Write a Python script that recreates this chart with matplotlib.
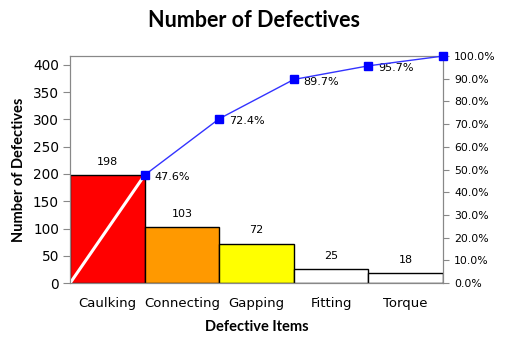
import matplotlib
matplotlib.use("Agg")
import matplotlib.pyplot as plt
import numpy as np

items = ["Caulking", "Connecting", "Gapping", "Fitting", "Torque"]
counts = [198, 103, 72, 25, 18]
cum_pct = [47.6, 72.4, 89.7, 95.7, 100.0]
colors = ["#FF0000", "#FF9900", "#FFFF00", "#FFFFFF", "#FFFFFF"]

total = sum(counts)
x = np.arange(len(items))

fig = plt.figure(figsize=(5.08, 3.44), dpi=100)
ax = fig.add_axes([0.138, 0.177, 0.734, 0.66])

ax.bar(x + 0.5, counts, width=1.0, color=colors, edgecolor="black", linewidth=1)
for xi, c in zip(x, counts):
    ax.annotate(str(c), (xi + 0.5, c), xytext=(0, 6), textcoords="offset points",
                ha="center", va="bottom", fontsize=8, family="DejaVu Sans")

# white diagonal from origin to first cumulative point
ax.plot([0, 1], [0, counts[0]], color="white", linewidth=2.2, zorder=3)

ax.set_xlim(0, len(items))
ax.set_ylim(0, total)
ax.set_yticks(range(0, 401, 50))
ax.set_xticks(x + 0.5)
ax.set_xticklabels(items, fontsize=9.5, family="DejaVu Sans")
ax.tick_params(axis="x", length=0, pad=10)
ax.tick_params(axis="y", labelsize=9.8, direction="out", length=5, color="#888888", pad=3)
for s in ax.spines.values():
    s.set_color("#888888")

ax.set_ylabel("Number of Defectives", fontsize=10.5, fontweight="bold", family="Lato", labelpad=5)
ax.set_xlabel("Defective Items", fontsize=10.5, fontweight="bold", family="Lato", labelpad=7)

ax2 = ax.twinx()
ax2.set_ylim(0, 100)
ax2.plot(x + 1, cum_pct, color="#3333FF", linewidth=1, marker="s", markersize=5.5,
         markerfacecolor="#0000FF", markeredgecolor="#0000FF", clip_on=False, zorder=5)
for xi, p in zip(x + 1, cum_pct[:-1]):
    ax2.annotate(f"{p:.1f}%", (xi, p), xytext=(7, -1.5), textcoords="offset points",
                 ha="left", va="center", fontsize=8, family="DejaVu Sans")
ax2.set_yticks(range(0, 101, 10))
ax2.set_yticklabels([f"{v:.1f}%" for v in range(0, 101, 10)])
ax2.tick_params(axis="y", labelsize=7.8, direction="out", length=4, color="#888888", pad=4)
for s in ax2.spines.values():
    s.set_color("#888888")

fig.suptitle("Number of Defectives", x=0.5, y=0.97, fontsize=15.5, fontweight="bold", family="Lato")

fig.savefig("out.png", dpi=100)
